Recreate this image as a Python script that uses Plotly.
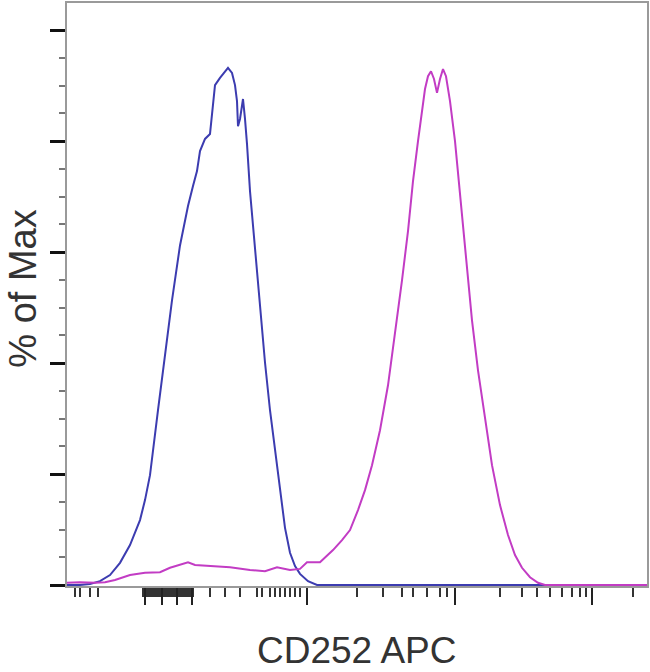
import plotly.graph_objects as go

# Display channel (biexponential scale, 0-580) and % of Max values
blue_x = [0, 13, 23, 33, 43, 53, 63, 73, 78, 83, 91, 98, 105, 113, 121, 126, 130, 133, 138, 143,
          146, 148, 153, 157, 161, 165, 168, 170, 171, 173, 176, 178, 180, 183, 188, 193, 198, 203,
          208, 213, 218, 223, 228, 233, 241, 250, 580]
blue_y = [0, 0, 0.2, 0.7, 1.8, 4.0, 7.2, 11.7, 15.3, 19.8, 31.5, 41.4, 51.3, 61.2, 68.3, 71.9, 74.6,
          78.2, 80.4, 81.3, 86.0, 90.1, 91.4, 92.3, 93.2, 92.3, 90.1, 87.2, 82.7, 84.0, 87.6, 84.0,
          79.5, 71.0, 60.3, 49.5, 40.1, 31.5, 24.3, 17.1, 10.3, 5.8, 3.4, 2.0, 0.7, 0, 0]

magenta_x = [0, 13, 28, 38, 48, 63, 78, 93, 103, 113, 121, 128, 143, 163, 183, 198, 210, 223, 233,
             240, 253, 266, 275, 283, 291, 298, 305, 313, 321, 328, 335, 341, 346, 351, 355, 358,
             361, 364, 367, 370, 373, 376, 379, 383, 388, 393, 399, 405, 411, 418, 425, 433, 441,
             448, 455, 463, 471, 478, 580]
magenta_y = [0.4, 0.5, 0.4, 0.5, 0.9, 1.8, 2.2, 2.3, 3.1, 3.6, 4.1, 3.6, 3.4, 3.2, 2.7, 2.5, 3.2,
             2.7, 2.9, 4.1, 4.1, 6.3, 8.1, 9.9, 13.5, 17.1, 21.6, 27.9, 36.0, 45.0, 54.9, 63.8,
             72.8, 80.0, 85.4, 89.4, 91.7, 92.6, 91.2, 88.7, 91.2, 93.0, 91.7, 87.2, 80.0, 70.1,
             58.5, 47.7, 38.7, 29.7, 21.6, 14.4, 9.0, 5.4, 3.1, 1.4, 0.4, 0, 0]

# tick positions (no labels)
x_major_ticks = [78, 95, 110, 125, 240, 388, 525]
x_minor_ticks = [8, 13, 23, 31] + list(range(76, 128, 2)) + \
    [143, 158, 173, 190, 195, 203, 208, 213, 218, 223, 228, 233,
     290, 316, 335, 346, 360, 373, 380,
     433, 455, 470, 483, 495, 505, 513, 519, 566]
y_major_ticks = [0, 20, 40, 60, 80, 100]
y_minor_ticks = [5, 10, 15, 25, 30, 35, 45, 50, 55, 65, 70, 75, 85, 90, 95]

x_title = "CD252 APC"
y_title = "% of Max"

fig = go.Figure()
fig.add_trace(go.Scatter(x=blue_x, y=blue_y, mode="lines",
                         line=dict(color="#3c3cb0", width=2), showlegend=False))
fig.add_trace(go.Scatter(x=magenta_x, y=magenta_y, mode="lines",
                         line=dict(color="#c23cc4", width=2), showlegend=False))

fig.update_layout(
    width=650, height=672,
    margin=dict(l=67, r=3, t=1, b=86),
    paper_bgcolor="white", plot_bgcolor="white",
    font=dict(family="Liberation Sans, Arial, sans-serif", color="#333333"),
    xaxis=dict(range=[0, 580], showgrid=False, zeroline=False,
               showline=True, linecolor="#9a9a9a", linewidth=1.5, mirror=True,
               tickmode="array", tickvals=x_major_ticks, ticks="outside",
               ticklen=17, tickwidth=2, tickcolor="#222222", showticklabels=False,
               minor=dict(tickmode="array", tickvals=x_minor_ticks, ticks="outside",
                          ticklen=9, tickwidth=1.5, tickcolor="#333333")),
    yaxis=dict(range=[-0.18, 104.9], showgrid=False, zeroline=False,
               showline=True, linecolor="#9a9a9a", linewidth=1.5, mirror=True,
               tickmode="array", tickvals=y_major_ticks, ticks="outside",
               ticklen=15, tickwidth=2.5, tickcolor="#111111", showticklabels=False,
               minor=dict(tickmode="array", tickvals=y_minor_ticks, ticks="outside",
                          ticklen=6, tickwidth=1.5, tickcolor="#777777")),
    annotations=[
        dict(text=x_title, xref="paper", yref="paper", x=0.5, y=-0.0719,
             xanchor="center", yanchor="top", showarrow=False,
             font=dict(size=37, color="#333333")),
        dict(text=y_title, xref="paper", yref="paper", x=-0.1155, y=0.51,
             xanchor="left", yanchor="middle", textangle=-90, showarrow=False,
             font=dict(size=38, color="#333333")),
    ],
)

fig.write_html(
    "out.html",
    config={"responsive": False, "displayModeBar": False},
    post_script="document.body.style.margin='0';document.body.style.overflow='hidden';",
)
